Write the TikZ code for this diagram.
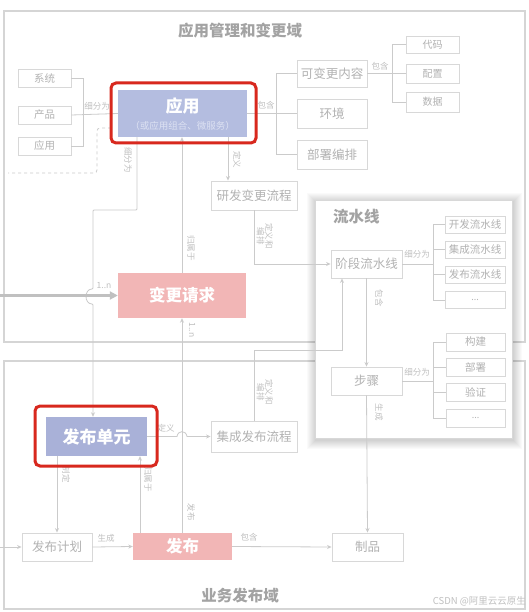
\documentclass[tikz,border=0pt]{standalone}
\usepackage{fontspec}
\setmainfont{Noto Sans CJK SC}
\usetikzlibrary{arrows.meta}
\definecolor{frm}{HTML}{D5D5D5}
\definecolor{bxd}{HTML}{D8D8D8}
\definecolor{lnc}{HTML}{CBCBCB}
\definecolor{txc}{HTML}{B2B2B2}
\definecolor{lbc}{HTML}{C0C0C0}
\definecolor{ttl}{HTML}{A3A3A3}
\definecolor{blu}{HTML}{B4BDE0}
\definecolor{blu2}{HTML}{A9B1D8}
\definecolor{pnk}{HTML}{F2B6B6}
\definecolor{redb}{HTML}{D8281E}
\definecolor{subw}{HTML}{DCE1F2}
\tikzset{
  fs/.style={font=\fontsize{#1}{#1}\selectfont},
  sz/.style 2 args={minimum width=#1pt, minimum height=#2pt},
  bx/.style={draw=bxd, line width=0.9pt, fill=white, text=txc, inner sep=0pt, fs=#1},
  bx/.default=12.5,
  ln/.style={draw=lnc, line width=0.8pt},
  arr/.style={ln, -{Stealth[length=4.5pt,width=4pt]}},
  lb/.style={text=lbc, inner sep=0pt, fs=8.5},
  vl/.style={lb, rotate=-90, align=center},
  redframe/.style={draw=redb, line width=3pt, rounded corners=5pt},
  domframe/.style={draw=frm, line width=1.8pt},
  ttlt/.style={text=ttl, inner sep=0pt, font=\bfseries\fontsize{15.5}{15.5}\selectfont},
}
\begin{document}
\begin{tikzpicture}[x=1pt,y=-1pt]
\useasboundingbox (0,0) rectangle (528,612);
\fill[white] (0,0) rectangle (528,612);

% domain frames
\draw[domframe] (4,11) rectangle (525,342);
\draw[domframe] (4,361) rectangle (525,609);
\node[ttlt] (t1) at (240,31) {应用管理和变更域};
\node[ttlt] (t2) at (240,596) {业务发布域};

% pipeline frame with soft shadow
\foreach \s in {1,2,...,9}{
  \fill[black, opacity=0.02] (315-\s+1,200-\s+2) rectangle (512+\s+1,438+\s+2);
}
\draw[draw=bxd, line width=0.8pt, fill=white] (315,200) rectangle (512,438);
\node[ttlt, anchor=west] (t3) at (333,217) {流水线};

% coordinates for brackets and edges
\coordinate (bl) at (83,0);
\coordinate (br) at (276,0);
\coordinate (br2) at (392,0);
\coordinate (bp) at (433,0);
\coordinate (lft) at (0,0);
\coordinate (x93) at (93,0);
\coordinate (x137) at (137,0);
\coordinate (x140) at (140,0);
\coordinate (x182) at (182,0);
\coordinate (x228) at (228,0);
\coordinate (x57) at (57,0);
\coordinate (x342) at (342,0);

% top domain nodes
\node[bx=10.5, sz={53}{18}] (sys) at (44.5,78) {系统};
\node[bx=10.5, sz={53}{18}] (prod) at (44.5,115) {产品};
\node[bx=10.5, sz={53}{18}] (apps) at (44.5,146) {应用};
\node[draw=none, fill=blu, inner sep=0pt, sz={129}{47}] (app) at (182.5,113.5) {};
\node[text=white, inner sep=0pt, font=\bfseries\fontsize{17}{17}\selectfont] (appt) at (182.5,106) {应用};
\node[text=subw, inner sep=0pt, fs=9.5] (apps2) at (182.5,126) {（或应用组合、微服务）};

\node[bx, sz={70}{27}] (kb) at (332,73.5) {可变更内容};
\node[bx, sz={70}{29}] (env) at (332,113.5) {环境};
\node[bx, sz={70}{29}] (dep) at (332,154.5) {部署编排};
\node[bx=10, sz={53}{17}] (code) at (432.5,44.5) {代码};
\node[bx=10, sz={53}{19}] (conf) at (432.5,73.5) {配置};
\node[bx=10, sz={53}{20}] (data) at (432.5,102) {数据};
\node[bx, sz={86}{29}] (yf) at (254,195.5) {研发变更流程};
\node[draw=none, fill=pnk, text=white, inner sep=0pt, sz={128}{45}, font=\bfseries\fontsize{16.5}{16.5}\selectfont] (cr) at (182,295.5) {变更请求};

% pipeline nodes
\node[bx, sz={71}{28}] (stage) at (366.5,264) {阶段流水线};
\node[bx=10.5, sz={60}{17}] (dev) at (475,224.5) {开发流水线};
\node[bx=10.5, sz={60}{17}] (int) at (475,249.5) {集成流水线};
\node[bx=10.5, sz={60}{17}] (rel) at (475,274.5) {发布流水线};
\node[bx=9, sz={60}{17}] (d1) at (475,300) {...};
\node[bx, sz={71}{28}] (step) at (366.5,381) {步骤};
\node[bx=10.5, sz={59}{18}] (build) at (475.5,342) {构建};
\node[bx=10.5, sz={59}{18}] (dply) at (475.5,367) {部署};
\node[bx=10.5, sz={59}{18}] (ver) at (475.5,392) {验证};
\node[bx=9, sz={59}{18}] (d2) at (475.5,418) {...};

% bottom domain nodes
\node[bx, sz={86}{31}] (jc) at (254,436.5) {集成发布流程};
\node[draw=none, fill=blu2, text=white, inner sep=0pt, sz={101}{39}, font=\bfseries\fontsize{17}{17}\selectfont] (ru) at (96.5,436.5) {发布单元};
\node[bx, sz={70}{28}] (plan) at (57,547) {发布计划};
\node[draw=none, fill=pnk, text=white, inner sep=0pt, sz={99}{27}, font=\bfseries\fontsize{16.5}{16.5}\selectfont] (pub) at (182.5,546.5) {发布};
\node[bx, sz={71}{28}] (art) at (367.5,547) {制品};

% ---- connectors ----
% left bracket
\draw[ln] (sys.east) -- (sys.east -| bl) -- (apps.east -| bl) -- (apps.east);
\draw[ln] (prod.east) -- (app.west);
\node[lb] (l1) at (97,106) {细分为};
% right bracket
\draw[ln] (app.east) -- (env.west);
\draw[ln] (kb.west) -- (kb.west -| br) -- (dep.west -| br) -- (dep.west);
\node[lb] (l2) at (266,105) {包含};
\draw[ln] (kb.east) -- (conf.west);
\draw[ln] (code.west) -- (code.west -| br2) -- (data.west -| br2) -- (data.west);
\node[lb] (l3) at (380,66) {包含};
% dashed
\draw[ln, dashed, rounded corners=3pt] (111,128) -- (97,128) -- (97,173) -- (8,173);

% app -> ru (细分为), with hop
\draw[arr, rounded corners=1pt] (app.south -| x137) -- (137,210) -- (93,210) -- (93,289)
   .. controls (84,289) and (84,304) .. (93,304) -- (ru.north -| x93);
\node[vl] (l4) at (128,160) {细分为};
\node[lb] (l5) at (104,286) {1..n};

% cr -> app (归属于)
\draw[arr] (cr.north) -- (app.south -| x182);
\node[vl] (l6) at (191,248) {归属于};
% app -> yf (定义)
\draw[arr] (app.south -| x228) -- (yf.north -| x228);
\node[vl] (l7) at (237,160) {定义};
% yf -> stage
\draw[arr] (yf.south) |- (stage.west);
\node[vl] (l8) at (265,236) {定义和\\编排};

% big incoming arrow
\draw[draw=lnc!85!gray, line width=2.2pt, -{Triangle[length=8pt,width=8pt]}] (cr.west -| lft) -- (cr.west);

% pub -> cr (1..n, 发布)
\draw[arr] (pub.north -| x182) -- (cr.south);
\node[vl] (l9) at (192,330) {1..n};
\node[vl] (l10) at (191,512) {发布};

% jc -> stage
\draw[arr] (jc.north) -- (254,350) -- (342,350) -- (stage.south -| x342);
\node[vl] (l11) at (265,392) {定义和\\编排};

% stage -> step
\draw[arr] (stage.south) -- (step.north);
\node[vl] (l12) at (379,298) {包含};
% stage bracket
\draw[ln] (stage.east) -- (stage.east -| bp);
\draw[ln] (dev.west) -- (dev.west -| bp) -- (d1.west -| bp) -- (d1.west);
\draw[ln] (int.west) -- (int.west -| bp);
\draw[ln] (rel.west) -- (rel.west -| bp);
\node[lb] (l13) at (417,254) {细分为};
% step bracket
\draw[ln] (step.east) -- (step.east -| bp);
\draw[ln] (build.west) -- (build.west -| bp) -- (d2.west -| bp) -- (d2.west);
\draw[ln] (dply.west) -- (dply.west -| bp);
\draw[ln] (ver.west) -- (ver.west -| bp);
\node[lb] (l14) at (417,372) {细分为};
% step -> art
\draw[arr] (step.south) -- (art.north);
\node[vl] (l15) at (379,412) {生成};

% ru -> jc with hop
\draw[arr] (ru.east) -- (177,436.5) .. controls (178,430) and (186,430) .. (187,436.5) -- (jc.west);
\node[lb] (l16) at (166,428) {定义};
% ru -> plan
\draw[arr] (ru.south -| x57) -- (plan.north);
\node[vl] (l17) at (66,474) {制定};
% pub -> ru
\draw[arr] (pub.north -| x140) -- (ru.south -| x140);
\node[vl] (l18) at (148,479) {归属于};
% left -> plan
\draw[arr] (plan.west -| lft) -- (plan.west);
% plan -> pub
\draw[arr] (plan.east) -- (pub.west);
\node[lb] (l19) at (106,538) {生成};
% pub -> art
\draw[arr] (pub.east) -- (art.west);
\node[lb] (l20) at (249,537) {包含};

% red highlight frames
\draw[redframe] (111,83) rectangle (256,143);
\draw[redframe] (35,406) rectangle (157,466);

% watermark
\node[text=lbc, inner sep=0pt, fs=9.5, anchor=east] (wm) at (526,601) {CSDN @阿里云云原生};
\end{tikzpicture}
\end{document}
